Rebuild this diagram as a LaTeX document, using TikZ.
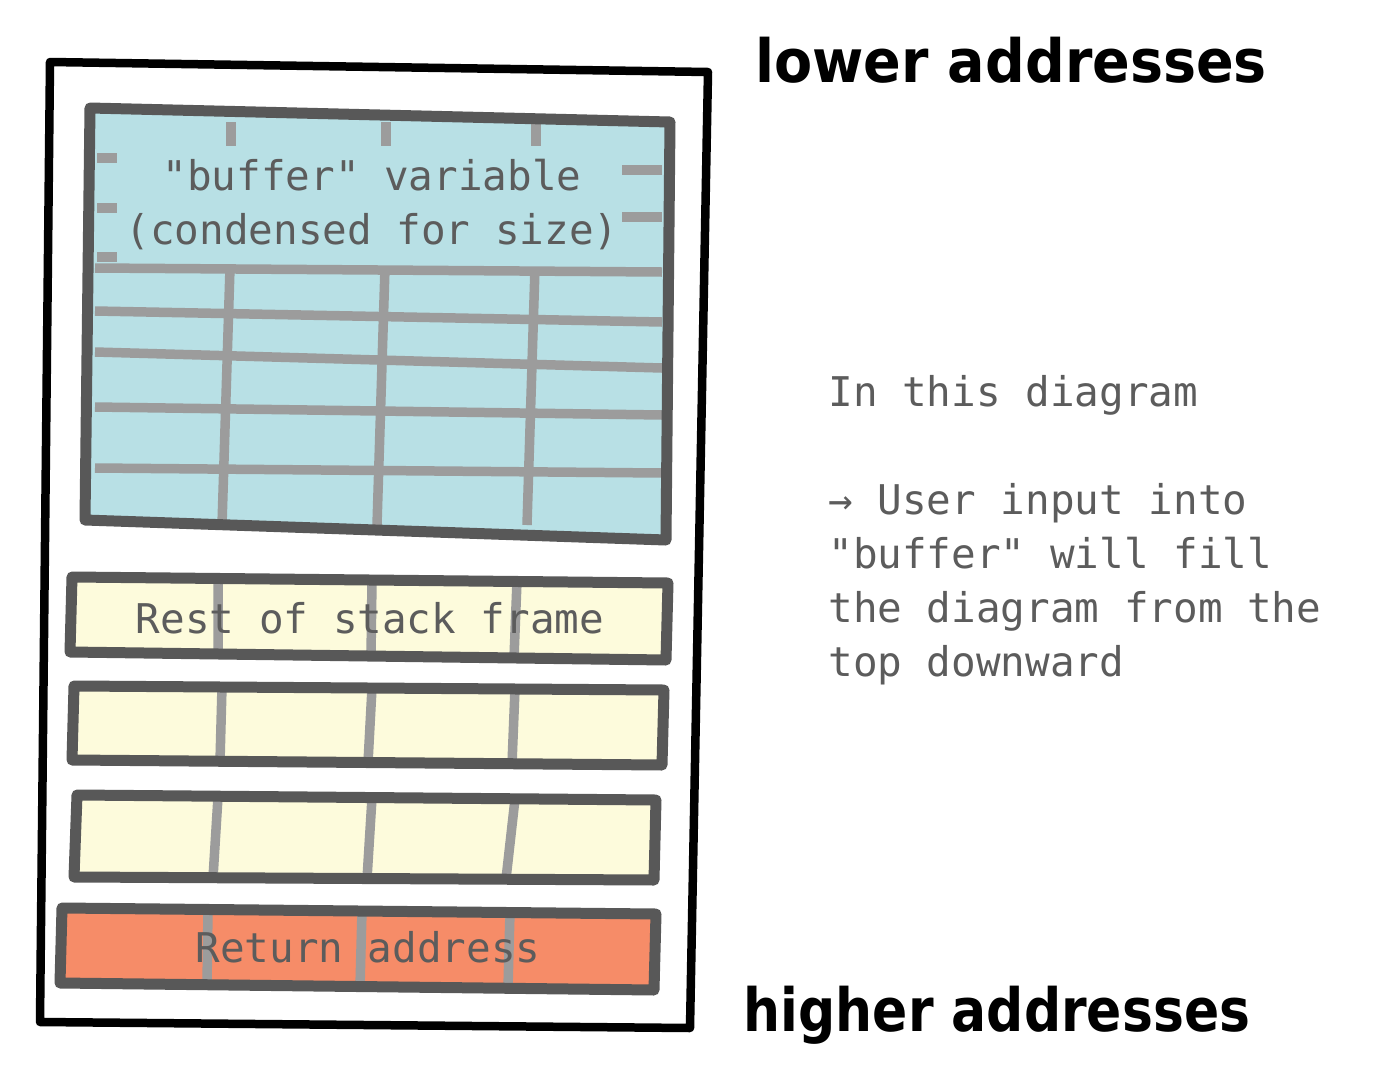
\documentclass[tikz,border=0pt]{standalone}
\usepackage{fontspec}
\usepackage{xcolor}
\setmonofont{DejaVu Sans Mono}
\newfontfamily\handfont{DejaVu Sans}

\definecolor{bufblue}{HTML}{B8E0E5}
\definecolor{frameyellow}{HTML}{FDFBDC}
\definecolor{retorange}{HTML}{F68C68}
\definecolor{edgegray}{HTML}{585858}
\definecolor{cellgray}{HTML}{9C9C9C}
\definecolor{notegray}{HTML}{5C5C5C}

\tikzset{
	boxedge/.style={draw=edgegray, line width=.22cm, line join=round, line cap=round},
	cellline/.style={draw=cellgray, line width=.19cm},
	monotext/.style={font=\ttfamily\fontsize{23.3}{30.7}\selectfont, text=notegray, inner sep=0pt},
	handtext/.style={font=\handfont\bfseries\fontsize{34}{40}\selectfont, inner sep=0pt},
}

\begin{document}
\begin{tikzpicture}[x=.02cm, y=-.02cm]
	\useasboundingbox (0,0) rectangle (1387,1089);

	% outer frame
	\draw[line width=.17cm, line join=round, line cap=round] (50,62) -- (708,72) -- (690,1028) -- (40,1022) -- cycle;

	% buffer
	\fill[bufblue] (90,108) -- (670,122) -- (666,540) -- (85,520) -- cycle;
	\foreach \l/\r in {268/272, 311/322, 352/368, 407/415, 468/473}{
		\draw[cellline] (95,\l) -- (662,\r);
	}
	\foreach \t/\b in {230/222, 385/377, 535/527}{
		\draw[cellline] (\t,268) -- (\b,525);
		\draw[cellline] (\t+1,122) -- (\t+1,146);
	}
	\foreach \y in {158, 208, 257}{
		\draw[cellline] (97,\y) -- (117,\y);
	}
	\foreach \y in {170, 217}{
		\draw[cellline] (622,\y) -- (662,\y);
	}
	\node[monotext, align=center] (bufname) at (372,205) {"buffer" variable\\(condensed for size)};
	\draw[boxedge] (90,108) -- (670,122) -- (666,540) -- (85,520) -- cycle;

	% rest of stack frame
	\fill[frameyellow] (72,577) -- (668,583) -- (666,660) -- (70,652) -- cycle;
	\draw[cellline] (218,579) -- (218,656) (372,580) -- (371,657) (517,581) -- (514,658);
	\node[monotext] (restframe) at (370,618) {Rest of stack frame};
	\draw[boxedge] (72,577) -- (668,583) -- (666,660) -- (70,652) -- cycle;

	\fill[frameyellow] (74,686) -- (664,690) -- (662,765) -- (72,760) -- cycle;
	\draw[cellline] (222,687) -- (220,762) (372,688) -- (368,763) (515,689) -- (512,764);
	\draw[boxedge] (74,686) -- (664,690) -- (662,765) -- (72,760) -- cycle;

	\fill[frameyellow] (77,795) -- (656,800) -- (654,880) -- (74,877) -- cycle;
	\draw[cellline] (218,797) -- (213,878) (372,798) -- (367,879) (515,799) -- (506,879);
	\draw[boxedge] (77,795) -- (656,800) -- (654,880) -- (74,877) -- cycle;

	% return address
	\fill[retorange] (62,908) -- (656,914) -- (654,990) -- (60,983) -- cycle;
	\draw[cellline] (208,910) -- (207,986) (362,911) -- (360,987) (510,912) -- (508,988);
	\node[monotext] (retaddr) at (368,947) {Return address};
	\draw[boxedge] (62,908) -- (656,914) -- (654,990) -- (60,983) -- cycle;

	% labels
	\node[handtext, xscale=.93] (lower) at (1011,60) {lower addresses};
	\node[handtext, xscale=.87] (higher) at (997,1015) {higher addresses};
	\node[monotext, align=left, anchor=north west] (note) at (828,375) {In this diagram\\\mbox{}\\→ User input into\\"buffer" will fill\\the diagram from the\\top downward};
\end{tikzpicture}
\end{document}
